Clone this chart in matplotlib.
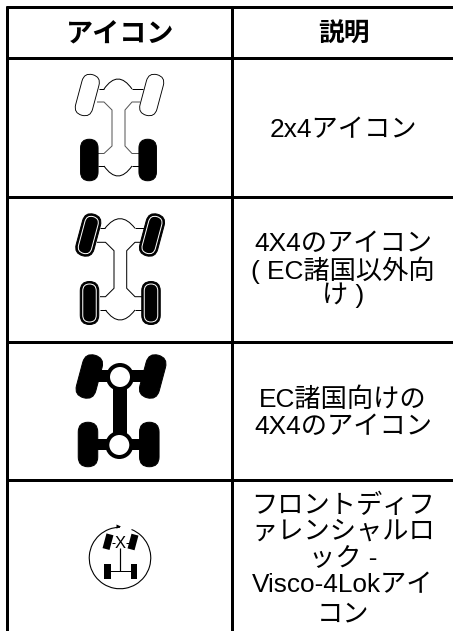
import matplotlib
matplotlib.use("Agg")
import matplotlib.pyplot as plt
from matplotlib.patches import FancyBboxPatch, Rectangle, Circle, Arc, PathPatch, Polygon
from matplotlib.path import Path
from matplotlib.transforms import Affine2D

FONT = ['Liberation Sans', 'Noto Sans CJK JP']
headers = ['アイコン', '説明']
row_lines = [
    ['2x4アイコン'],
    ['4X4のアイコン', '( EC諸国以外向', 'け )'],
    ['EC諸国向けの', '4X4のアイコン'],
    ['フロントディフ', 'ァレンシャルロ', 'ック -', 'Visco-4Lokアイ', 'コン'],
]
row_line_y = [[130], [244, 270, 295], [400, 427], [506, 532, 559, 585, 614]]
header_y = 35
grid_y = [7.3, 58.3, 197, 341.5, 480]
grid_x = [7.3, 232.3]

fig = plt.figure(figsize=(4.53, 6.31), dpi=100)
ax = fig.add_axes([0, 0, 1, 1])
ax.set_xlim(0, 453)
ax.set_ylim(631, 0)
ax.axis('off')
PX = 0.72


def capsule(cx, cy, w, h, ang, fc='k', ec='k', lw=1.0, z=3):
    p = FancyBboxPatch((cx - w / 2, cy - h / 2), w, h,
                       boxstyle=f"round,pad=0,rounding_size={w / 2}",
                       fc=fc, ec=ec, lw=lw * PX, zorder=z)
    p.set_transform(Affine2D().rotate_deg_around(cx, cy, ang) + ax.transData)
    ax.add_patch(p)


def poly(points, lw=1.0, color='k', z=2):
    xs, ys = zip(*points)
    ax.plot(xs, ys, color=color, lw=lw * PX, zorder=z, solid_capstyle='butt')


def bez(p0, c, p1, lw=1.0, z=2):
    path = Path([p0, c, p1], [Path.MOVETO, Path.CURVE3, Path.CURVE3])
    ax.add_patch(PathPatch(path, fc='none', ec='k', lw=lw * PX, zorder=z))


# grid
for y in grid_y:
    ax.plot([grid_x[0] - 1.5, 453], [y, y], color='k', lw=3 * PX, solid_capstyle='butt', zorder=5)
for x in grid_x:
    ax.plot([x, x], [grid_y[0] - 1.5, 631], color='k', lw=3 * PX, solid_capstyle='butt', zorder=5)

# text
ax.text(120, header_y, headers[0], family=FONT, weight='bold', fontsize=19.5, ha='center', va='center')
ax.text(343.5, header_y, headers[1], family=FONT, weight='bold', fontsize=18.5, ha='center', va='center')
for lines, ys in zip(row_lines, row_line_y):
    for s, y in zip(lines, ys):
        ax.text(343, y, s, family=FONT, fontsize=18.9, ha='center', va='center')

# icon 1: 2x4
capsule(87.3, 95, 17.5, 42, 15, fc='w', lw=0.9)
capsule(151.7, 95, 17.5, 42, 15, fc='w', lw=0.9)
capsule(89.3, 160, 17.5, 41.5, 0)
capsule(147.7, 160, 17.5, 41.5, 0)
poly([(99, 89), (104, 89)]); poly([(132, 89), (143, 89)])
bez((104, 89), (118, 69), (132, 89))
poly([(97, 102), (104, 102), (112, 110), (112, 146), (104, 153.5), (98, 153.5)], color='#555555')
poly([(140, 102), (132, 102), (125, 110), (125, 146), (132, 153.5), (139, 153.5)], color='#555555')
poly([(98, 166), (104, 166)]); poly([(132, 166), (139, 166)])
bez((104, 166), (118, 186), (132, 166))

# icon 2: 4x4 (non-EC)
for cx, cy, a in [(88.3, 235, 15), (152, 235, 15), (89.5, 303, 0), (151, 303, 0)]:
    capsule(cx, cy, 18.5, 43, a, fc='k')
    capsule(cx, cy, 13.5, 38, a, fc='k', ec='w', lw=1.0, z=4)
poly([(100, 228.3), (105, 228.3)]); poly([(135, 228.3), (144, 228.3)])
bez((105, 228.3), (120, 209), (135, 228.3))
poly([(97, 242.3), (105.5, 242.3), (114, 250.7), (114, 288.3), (105.5, 296.7), (100, 296.7)])
poly([(143, 242.3), (135, 242.3), (126.7, 250.7), (126.7, 288.3), (135, 296.7), (142, 296.7)])
poly([(100, 310), (105.5, 310)]); poly([(135, 310), (142, 310)])
bez((105.5, 310), (120, 330), (135, 310))

# icon 3: 4x4 (EC), solid
for cx, cy, a in [(89.3, 376.5, 15), (152.7, 376.5, 15)]:
    capsule(cx, cy, 20, 44, a)
for cx, cy in [(88, 444.5), (149.3, 444.5)]:
    capsule(cx, cy, 19.5, 44.5, 0)
ax.add_patch(Rectangle((95, 369.5), 50, 12, fc='k', ec='none', zorder=2))
ax.add_patch(Rectangle((95, 438.5), 50, 11.5, fc='k', ec='none', zorder=2))
ax.add_patch(Rectangle((113, 380), 14, 60, fc='k', ec='none', zorder=2))
ax.add_patch(Circle((120, 377), 12, fc='w', ec='k', lw=4 * PX, zorder=3))
ax.add_patch(Circle((119.3, 445), 12, fc='w', ec='k', lw=4 * PX, zorder=3))

# icon 4: differential lock
ax.add_patch(Arc((120, 558), 61.5, 61.5, theta1=-68, theta2=270, color='k', lw=1.1 * PX, zorder=3))
ax.add_patch(Polygon([(121, 526.5), (116.5, 524.5), (116.5, 528.7)], fc='k', ec='none', zorder=3))
for cx, cy, a in [(108, 541.7, 15), (133, 542, 15)]:
    r = Rectangle((cx - 3.6, cy - 7.6), 7.2, 15.2, fc='k', ec='none', zorder=3)
    r.set_transform(Affine2D().rotate_deg_around(cx, cy, a) + ax.transData)
    ax.add_patch(r)
for cx in (107.3, 134):
    ax.add_patch(Rectangle((cx - 3.2, 563.5), 6.4, 15.5, fc='k', ec='none', zorder=3))
poly([(107, 571), (134, 571)], lw=1)
poly([(120, 548), (120, 571)], lw=1.2)
poly([(112, 543), (115, 543)], lw=1); poly([(126, 543), (129, 543)], lw=1)
ax.text(120.3, 543, 'X', family=FONT, fontsize=12, ha='center', va='center', zorder=4)

fig.savefig('out.png', dpi=100)
